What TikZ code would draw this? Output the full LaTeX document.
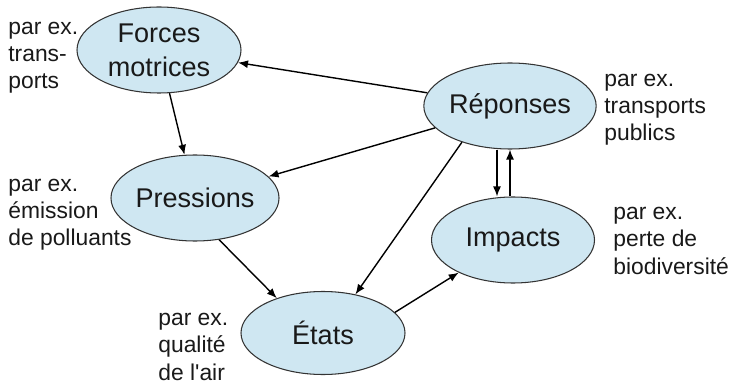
\documentclass[tikz,border=0pt]{standalone}
\usepackage{fontspec}
\setmainfont{Liberation Sans}
\usepackage{tikz}
\usetikzlibrary{arrows.meta}
\usetikzlibrary{shapes.geometric}
\usetikzlibrary{positioning}

\begin{document}
\begin{tikzpicture}[
    bulle/.style = {ellipse, draw=black!80, line width=0.6pt, fill=bleuclair, inner sep=0pt,
        minimum width=3.28cm, minimum height=1.72cm, align=center,
        font=\fontsize{15.4}{19.4}\selectfont, text=black!90},
    exemple/.style = {anchor=base west, inner sep=0pt, align=left,
        font=\fontsize{13}{15.4}\selectfont, text=black!90},
    fleche/.style = {-{Latex[length=2mm,width=1.6mm]}, line width=0.8pt}]
            \definecolor{bleuclair}{RGB}{207,231,242};
            \useasboundingbox (0,0) rectangle (14.58,7.82);

            \node[bulle] (fm) at (3.18,6.82) {Forces\\motrices};
            \node[bulle] (pr) at (3.90,3.86) {Pressions};
            \node[bulle, minimum width=3.4cm] (rep) at (10.20,5.70) {Réponses};
            \node[bulle, minimum width=3.26cm] (imp) at (10.26,3.02) {Impacts};
            \node[bulle, minimum height=1.66cm] (eta) at (6.46,1.16) {États};

            % base = ligne du bas
            \node[exemple] (exfm) at (0.16,6.04) {par ex.\\trans-\\ports};
            \node[exemple] (expr) at (0.16,2.90) {par ex.\\émission\\de polluants};
            \node[exemple] (exeta) at (3.16,0.22) {par ex.\\qualité\\de l\textquotesingle air};
            \node[exemple] (exrep) at (12.08,5.00) {par ex.\\transports\\publics};
            \node[exemple] (eximp) at (12.26,2.34) {par ex.\\perte de\\biodiversité};

            \draw [fleche] (fm) -- (pr);
            \draw [fleche] (rep) -- (fm);
            \draw [fleche] (rep) -- (pr);
            \draw [fleche] (rep.217) -- (eta.50);
            \draw [fleche] (pr.300) -- (eta.143);
            \draw [fleche] (eta.16) -- (imp.211);
            \draw [fleche] ([xshift=-0.26cm]rep.south) -- ([xshift=-0.26cm]rep.south |- imp.north);
            \draw [fleche] (rep.south |- imp.north) -- (rep.south);
        \end{tikzpicture}
\end{document}
